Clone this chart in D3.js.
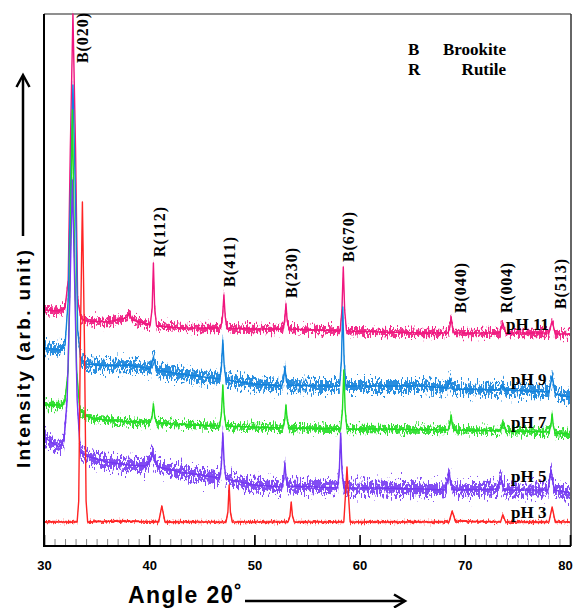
<!DOCTYPE html>
<html>
<head>
<meta charset="utf-8">
<script src="https://cdn.jsdelivr.net/npm/d3@7/dist/d3.min.js"></script>
<style>
  body { margin: 0; background: #fff; }
  text { fill: #000; }
</style>
</head>
<body>
<div id="chart"></div>
<script>
// XRD patterns, [2θ, intensity (arb., stacked offset)]
const ph3 = [[30,24],[33.15,24],[33.3,45],[33.45,200],[33.65,344],[33.85,200],[34.0,45],[34.15,24],[37,25],[40.9,24],[41.2,40],[41.5,24],
  [47.3,24],[47.48,34],[47.6,61],[47.72,34],[47.9,24],[53.2,24],[53.38,30],[53.5,44],[53.62,30],[53.8,24],
  [58.5,24],[58.65,50],[58.8,79],[58.95,50],[59.1,24],
  [68.5,24],[68.8,35],[69.1,25],[73.4,24],[73.6,31],[73.9,24],[78.0,24],[78.3,39],[78.6,24],[80,24]];
const ph5 = [[30,109],[30.8,103],[31.5,99],[31.9,106],[32.2,146],[32.45,246],[32.7,366],[32.95,246],[33.15,146],[33.45,94],[34,90],
  [36,84],[38,81],[39.7,80],[40.1,86],[40.3,93],[40.5,86],[40.9,79],[43,74],
  [46.7,68],[46.87,82],[47.0,113],[47.13,82],[47.3,67],[50,61],
  [52.6,59],[52.78,67],[52.9,83],[53.02,67],[53.2,60],[56,59],
  [57.9,58],[58.07,75],[58.2,113],[58.33,75],[58.5,58],[62,58],[66,57],
  [68.1,56],[68.35,64],[68.5,74],[68.65,64],[68.9,56],[73.1,57],[73.4,69],[73.7,56],
  [77.9,56],[78.2,76],[78.5,56],[80,53]];
const ph7 = [[30,141],[31.8,141],[32.0,146],[32.3,176],[32.5,296],[32.7,436],[32.9,296],[33.1,176],[33.4,136],[34,130],[35,127],
  [37,125],[39,124],[40.1,124],[40.28,130],[40.4,142],[40.52,130],[40.7,123],[44,121],
  [46.7,120],[46.87,133],[47.0,161],[47.13,133],[47.3,120],
  [52.7,118],[52.88,126],[53.0,141],[53.12,126],[53.3,118],
  [58.2,117],[58.37,136],[58.5,176],[58.63,136],[58.8,117],[62,117],
  [68.4,116],[68.58,121],[68.7,131],[68.82,121],[69.0,116],[73.4,115],[73.6,123],[73.9,115],
  [78.0,114],[78.18,120],[78.3,132],[78.42,120],[78.6,113],[80,112]];
const ph9 = [[30,198],[31.5,196],[32.0,201],[32.3,246],[32.5,346],[32.75,461],[33.0,346],[33.2,216],[33.5,186],[34,182],[36,180],
  [38,181],[40.1,177],[40.4,189],[40.7,176],[43,172],
  [46.7,167],[46.87,180],[47.0,206],[47.13,180],[47.3,166],[50,162],
  [52.6,160],[52.78,167],[52.9,179],[53.02,167],[53.2,161],[56,160],
  [58.1,160],[58.27,185],[58.4,239],[58.53,185],[58.7,160],[62,160],[66,160],
  [68.3,158],[68.6,166],[68.9,157],[73.3,156],[73.6,160],[73.9,156],
  [78.0,154],[78.3,170],[78.6,152],[80,149]];
const ph11 = [[30,236],[31.5,235],[32.0,238],[32.3,266],[32.5,396],[32.75,532],[33.0,396],[33.2,246],[33.5,228],[34,225],[36,224],
  [37.8,228],[38.1,233],[38.4,226],[40.1,221],[40.28,238],[40.4,283],[40.52,238],[40.7,220],[43,218],
  [46.8,218],[46.97,229],[47.1,251],[47.23,229],[47.4,218],[50,217],
  [52.7,217],[52.88,225],[53.0,242],[53.12,225],[53.3,217],[56,216],
  [58.15,215],[58.32,236],[58.45,279],[58.58,236],[58.75,215],[62,214],[66,213],
  [68.4,213],[68.58,219],[68.7,229],[68.82,219],[69.0,213],
  [73.3,213],[73.6,223],[73.9,213],[78.0,213],[78.3,225],[78.6,212],[80,212]];

const seriesNames = ['pH 11', 'pH 9', 'pH 7', 'pH 5', 'pH 3'];
const seriesData = [ph11, ph9, ph7, ph5, ph3];
const seriesColors = ['#f0167e', '#1282dc', '#22dd22', '#7438f2', '#ff2424'];
// visual thickness of the noise band, px
const noiseBand = [10, 15, 10, 17, 4];

const peakLabels = ['B(020)', 'R(112)', 'B(411)', 'B(230)', 'B(670)', 'B(040)', 'R(004)', 'B(513)'];
const peakLabelAngles = [33.6, 40.95, 47.55, 53.5, 58.9, 69.5, 73.95, 79.05];
const xTicks = [30, 40, 50, 60, 70, 80];

const W = 574, H = 608;
const svg = d3.select('#chart').append('svg')
  .attr('width', W)
  .attr('height', H);

const x = d3.scaleLinear().domain([30, 80]).range([44, 570]);
const y = d3.scaleLinear().domain([0, 532]).range([546, 14]);

const defs = svg.append('defs');
seriesNames.forEach((_, i) => {
  const f = defs.append('filter')
    .attr('id', 'noise' + i)
    .attr('filterUnits', 'userSpaceOnUse')
    .attr('x', 0).attr('y', 0).attr('width', W).attr('height', H)
    .attr('color-interpolation-filters', 'sRGB');
  f.append('feTurbulence')
    .attr('type', 'fractalNoise')
    .attr('baseFrequency', '0.7 0.2')
    .attr('numOctaves', 2)
    .attr('seed', i * 7 + 3)
    .attr('result', 't');
  f.append('feColorMatrix')
    .attr('in', 't')
    .attr('type', 'matrix')
    .attr('values', '0 0 0 0 0.5  0 1 0 0 0  0 0 0 0 0  0 0 0 0 1')
    .attr('result', 'm');
  f.append('feDisplacementMap')
    .attr('in', 'SourceGraphic')
    .attr('in2', 'm')
    .attr('scale', noiseBand[i] * 1.8)
    .attr('xChannelSelector', 'R')
    .attr('yChannelSelector', 'G');
});

// Frame
svg.append('line').attr('x1', 44).attr('x2', 571).attr('y1', 14).attr('y2', 14)
  .attr('stroke', '#6a6a6a').attr('stroke-width', 1.5);
svg.append('line').attr('x1', 571).attr('x2', 571).attr('y1', 14).attr('y2', 546)
  .attr('stroke', '#333').attr('stroke-width', 1.5);

// Traces: a jagged band for the noise, a thin line for the peaks
const line = d3.line().x(d => x(d[0])).y(d => y(d[1]));
const traces = svg.append('g');
seriesData.forEach((data, i) => {
  const half = noiseBand[i] * 0.33;
  const band = d3.area()
    .x(d => x(d[0]))
    .y0(d => y(d[1]) + half)
    .y1(d => y(d[1]) - half);
  traces.append('path')
    .datum(data)
    .attr('d', band)
    .attr('fill', seriesColors[i])
    .attr('fill-opacity', 0.9)
    .attr('filter', `url(#noise${i})`);
  traces.append('path')
    .datum(data)
    .attr('d', line)
    .attr('fill', 'none')
    .attr('stroke', seriesColors[i])
    .attr('stroke-width', 1.4)
    .attr('stroke-linejoin', 'round');
});

// X axis, ticks pointing inward
const minor = svg.append('g').attr('transform', 'translate(0,546)')
  .call(d3.axisBottom(x).ticks(50).tickSize(-7).tickFormat(''));
minor.select('.domain').remove();
minor.selectAll('line').attr('stroke', '#888').attr('stroke-width', 1);

const major = svg.append('g').attr('transform', 'translate(0,546)')
  .call(d3.axisBottom(x).tickValues(xTicks).tickSize(-11).tickPadding(15).tickFormat(d3.format('d')));
major.select('.domain').remove();
major.selectAll('line').attr('stroke', '#000').attr('stroke-width', 1.6);
major.selectAll('text')
  .attr('font-family', 'Arial, "Liberation Sans", sans-serif')
  .attr('font-weight', 'bold')
  .attr('font-size', 13)
  .attr('dx', d => d === 80 ? -5 : 0);

svg.append('line').attr('x1', 43).attr('x2', 571).attr('y1', 546).attr('y2', 546)
  .attr('stroke', '#000').attr('stroke-width', 2);
svg.append('line').attr('x1', 44).attr('x2', 44).attr('y1', 14).attr('y2', 547)
  .attr('stroke', '#000').attr('stroke-width', 2);

// Axis titles and arrows
svg.append('text')
  .attr('transform', 'translate(30,468) rotate(-90)')
  .attr('font-family', 'Arial, "Liberation Sans", sans-serif')
  .attr('font-weight', 'bold')
  .attr('font-size', 19)
  .attr('textLength', 218)
  .text('Intensity (arb. unit)');
svg.append('line').attr('x1', 23).attr('x2', 23).attr('y1', 236).attr('y2', 76)
  .attr('stroke', '#000').attr('stroke-width', 2.5);
svg.append('polyline').attr('points', '16.5,87 23,75 29.5,87')
  .attr('fill', 'none').attr('stroke', '#000').attr('stroke-width', 2.5);

svg.append('text')
  .attr('x', 128).attr('y', 603)
  .attr('font-family', 'Arial, "Liberation Sans", sans-serif')
  .attr('font-weight', 'bold')
  .attr('font-size', 23)
  .attr('textLength', 114)
  .text('Angle 2θ˚');
svg.append('line').attr('x1', 245).attr('x2', 404).attr('y1', 601).attr('y2', 601)
  .attr('stroke', '#000').attr('stroke-width', 2.5);
svg.append('polyline').attr('points', '394,594.5 405,601 394,607.5')
  .attr('fill', 'none').attr('stroke', '#000').attr('stroke-width', 2.5);

// Peak labels
const labelBottom = [63, 257, 287, 298, 262, 313, 313, 309];
const serif = '"Times New Roman", "Liberation Serif", serif';
svg.append('g').selectAll('text')
  .data(peakLabels)
  .join('text')
  .attr('transform', (d, i) => `translate(${x(peakLabelAngles[i]) + 6},${labelBottom[i]}) rotate(-90)`)
  .attr('font-family', serif)
  .attr('font-weight', 'bold')
  .attr('font-size', 16)
  .attr('textLength', 50)
  .text(d => d);

// Series labels
const seriesLabelY = [330, 385, 428, 482, 518];
svg.append('g').selectAll('text')
  .data(seriesNames)
  .join('text')
  .attr('x', (d, i) => i === 0 ? 506 : 511)
  .attr('y', (d, i) => seriesLabelY[i])
  .attr('font-family', serif)
  .attr('font-weight', 'bold')
  .attr('font-size', 17)
  .text(d => d);

// Phase key
const keyLetters = ['B', 'R'];
const keyNames = ['Brookite', 'Rutile'];
const key = svg.append('g').attr('font-family', serif).attr('font-weight', 'bold').attr('font-size', 17);
keyLetters.forEach((k, i) => {
  key.append('text').attr('x', 408).attr('y', 55 + i * 20).text(k);
  key.append('text').attr('x', 506).attr('y', 55 + i * 20).attr('text-anchor', 'end').text(keyNames[i]);
});
</script>
</body>
</html>
